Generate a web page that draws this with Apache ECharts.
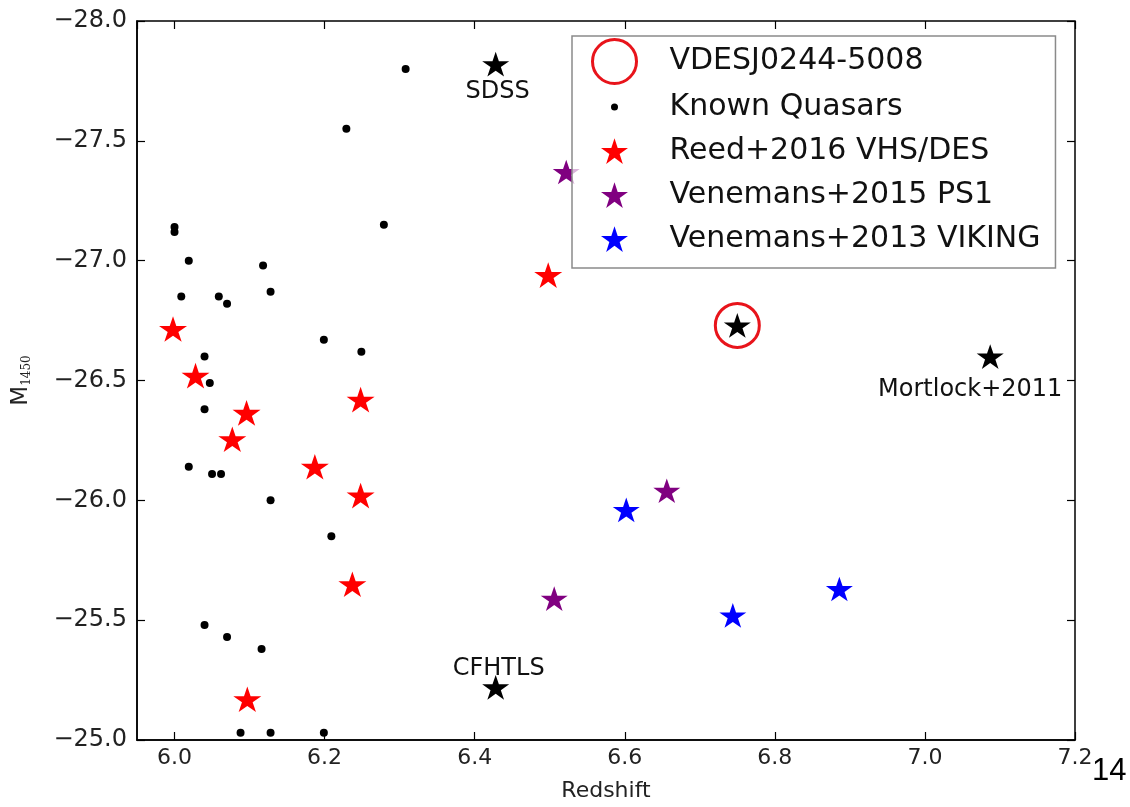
<!DOCTYPE html>
<html><head><meta charset="utf-8">
<script src="https://cdn.jsdelivr.net/npm/echarts@6/dist/echarts.min.js"></script>
<style>html,body{margin:0;padding:0;background:#fff}#c{width:1130px;height:807px}</style>
</head><body><div id="c"></div>
<script>
// ---- data ----
const knownZ = [6.308, 6.229, 6.000, 6.000, 6.279, 6.019, 6.118, 6.009, 6.059, 6.070, 6.128, 6.199, 6.249, 6.040, 6.047, 6.040, 6.019, 6.050, 6.062, 6.128, 6.209, 6.040, 6.070, 6.116, 6.088, 6.128, 6.199];
const knownM = [-27.80, -27.55, -27.14, -27.12, -27.15, -27.00, -26.98, -26.85, -26.85, -26.82, -26.87, -26.67, -26.62, -26.60, -26.49, -26.38, -26.14, -26.11, -26.11, -26.00, -25.85, -25.48, -25.43, -25.38, -25.03, -25.03, -25.03];
const reedZ = [5.998, 6.028, 6.096, 6.077, 6.248, 6.187, 6.248, 6.237, 6.097, 6.498];
const reedM = [-26.715, -26.52, -26.365, -26.255, -26.42, -26.14, -26.02, -25.65, -25.17, -26.94];
const ven15Z = [6.522, 6.656, 6.506];
const ven15M = [-27.37, -26.04, -25.59];
const ven13Z = [6.602, 6.744, 6.886];
const ven13M = [-25.96, -25.52, -25.63];
const namedLabels = ['SDSS', 'CFHTLS', 'Mortlock+2011', ''];
const namedZ = [6.428, 6.428, 7.087, 6.750];
const namedM = [-27.82, -25.22, -26.60, -26.73];
const vdesZ = [6.750];
const vdesM = [-26.73];
const seriesNames = ['VDESJ0244-5008', 'Known Quasars', 'Reed+2016 VHS/DES', 'Venemans+2015 PS1', 'Venemans+2013 VIKING'];
const xRange = [5.95, 7.2];
const yRange = [-28.0, -25.0];
const xAxisTitle = 'Redshift';
const pageNumber = '14';

// ---- styling ----
const FONT = 'DejaVu Sans';
const STAR = 'path://M50,0 L61.23,34.55 L97.55,34.55 L68.17,55.9 L79.39,90.45 L50,69.1 L20.61,90.45 L31.83,55.9 L2.45,34.55 L38.77,34.55 Z';
const STAR_LEG = 'path://M-27.5,-32.5 M127.5,122.5 M50,0 L61.23,34.55 L97.55,34.55 L68.17,55.9 L79.39,90.45 L50,69.1 L20.61,90.45 L31.83,55.9 L2.45,34.55 L38.77,34.55 Z';
const DOT_LEG = 'path://M-31.4,-31.4 M31.4,31.4 M-5,0 A5,5 0 1,0 5,0 A5,5 0 1,0 -5,0 Z';
const annotOffset = { 'SDSS': [2, 28], 'CFHTLS': [3, -19], 'Mortlock+2011': [-20, 33] };
const RED = '#ff0000', PURPLE = '#800080', BLUE = '#0000ff', CIRCLE_RED = '#e8141b';

const pairs = (xs, ys) => xs.map((x, i) => [x, ys[i]]);
const fmtY = v => v.toFixed(1).replace('-', '\u2212');

const tickCommon = { show: true, inside: true, length: 8, lineStyle: { color: '#000', width: 1.2 } };

const chart = echarts.init(document.getElementById('c'), null, { renderer: 'canvas' });
chart.setOption({
  backgroundColor: '#fff',
  animation: false,
  title: { text: pageNumber, left: 1092, top: 756, padding: 0,
    textStyle: { fontFamily: 'Liberation Sans', fontSize: 31, fontWeight: 'normal', color: '#000' } },
  grid: { left: 137, right: 55, top: 21, bottom: 63, show: true, borderColor: '#000', borderWidth: 1.5, backgroundColor: 'transparent' },
  xAxis: [
    { type: 'value', min: xRange[0], max: xRange[1], minInterval: 0.2, maxInterval: 0.2, position: 'bottom',
      name: xAxisTitle, nameLocation: 'middle', nameGap: 40,
      nameTextStyle: { fontFamily: FONT, fontSize: 22, color: '#222' },
      axisLine: { show: true, onZero: false, lineStyle: { color: '#000', width: 1.5 } },
      axisTick: tickCommon, splitLine: { show: false },
      axisLabel: { showMinLabel: false, margin: 7, fontFamily: FONT, fontSize: 22, color: '#222', formatter: v => v.toFixed(1) } },
    { type: 'value', min: xRange[0], max: xRange[1], minInterval: 0.2, maxInterval: 0.2, position: 'top',
      axisLine: { show: false }, axisTick: tickCommon, axisLabel: { show: false }, splitLine: { show: false } }
  ],
  yAxis: [
    { type: 'value', min: yRange[0], max: yRange[1], interval: 0.5, inverse: true, position: 'left',
      name: '{m|M}{s|1450}', nameLocation: 'middle', nameGap: 104, nameRotate: 90,
      nameTextStyle: { rich: {
        m: { fontFamily: FONT, fontSize: 23, color: '#222', lineHeight: 23 },
        s: { fontFamily: 'DejaVu Serif', fontSize: 12, color: '#222', lineHeight: 9, verticalAlign: 'bottom' } } },
      axisLine: { show: true, onZero: false, lineStyle: { color: '#000', width: 1.5 } },
      axisTick: tickCommon, splitLine: { show: false },
      axisLabel: { margin: 10, fontFamily: FONT, fontSize: 24, color: '#222', formatter: fmtY, padding: [0, 0, 8, 0] } },
    { type: 'value', min: yRange[0], max: yRange[1], interval: 0.5, inverse: true, position: 'right',
      axisLine: { show: false }, axisTick: tickCommon, axisLabel: { show: false }, splitLine: { show: false } }
  ],
  legend: {
    orient: 'vertical', left: 572, top: 36, padding: [2, 15, 7, 19],
    itemWidth: 44, itemHeight: 44, itemGap: 0, selectedMode: false,
    backgroundColor: 'rgba(255,255,255,0.7)', borderColor: '#8a8a8a', borderWidth: 1.5,
    textStyle: { fontFamily: FONT, fontSize: 30, color: '#111', padding: [0, 0, 0, 28] },
    data: [
      { name: seriesNames[0], icon: 'circle', itemStyle: { color: 'rgba(0,0,0,0)', borderColor: CIRCLE_RED, borderWidth: 3 } },
      { name: seriesNames[1], icon: DOT_LEG, itemStyle: { color: '#000', borderWidth: 0 } },
      { name: seriesNames[2], icon: STAR_LEG, itemStyle: { color: RED, borderWidth: 0 } },
      { name: seriesNames[3], icon: STAR_LEG, itemStyle: { color: PURPLE, borderWidth: 0 } },
      { name: seriesNames[4], icon: STAR_LEG, itemStyle: { color: BLUE, borderWidth: 0 } }
    ]
  },
  series: [
    { name: seriesNames[1], type: 'scatter', symbol: 'circle', symbolSize: 8,
      itemStyle: { color: '#000', opacity: 1 }, data: pairs(knownZ, knownM), z: 3 },
    { name: seriesNames[2], type: 'scatter', symbol: STAR, symbolSize: [28, 27], symbolKeepAspect: true,
      itemStyle: { color: RED, opacity: 1 }, data: pairs(reedZ, reedM), z: 3 },
    { name: seriesNames[3], type: 'scatter', symbol: STAR, symbolSize: [27, 26], symbolKeepAspect: true,
      itemStyle: { color: PURPLE, opacity: 1 }, data: pairs(ven15Z, ven15M), z: 3 },
    { name: seriesNames[4], type: 'scatter', symbol: STAR, symbolSize: [27, 26], symbolKeepAspect: true,
      itemStyle: { color: BLUE, opacity: 1 }, data: pairs(ven13Z, ven13M), z: 3 },
    { name: 'named', type: 'scatter', symbol: STAR, symbolSize: [27, 26], symbolKeepAspect: true,
      itemStyle: { color: '#000', opacity: 1 }, z: 3,
      data: namedZ.map((z, i) => ({
        value: [z, namedM[i]], name: namedLabels[i],
        label: namedLabels[i] ? { show: true, position: 'inside', formatter: namedLabels[i], offset: annotOffset[namedLabels[i]],
          fontFamily: FONT, fontSize: 24, color: '#111' } : { show: false }
      })) },
    { name: seriesNames[0], type: 'scatter', symbol: 'circle', symbolSize: 44,
      itemStyle: { color: 'rgba(0,0,0,0)', borderColor: CIRCLE_RED, borderWidth: 3, opacity: 1 },
      data: pairs(vdesZ, vdesM), z: 4 }
  ]
});
</script></body></html>
